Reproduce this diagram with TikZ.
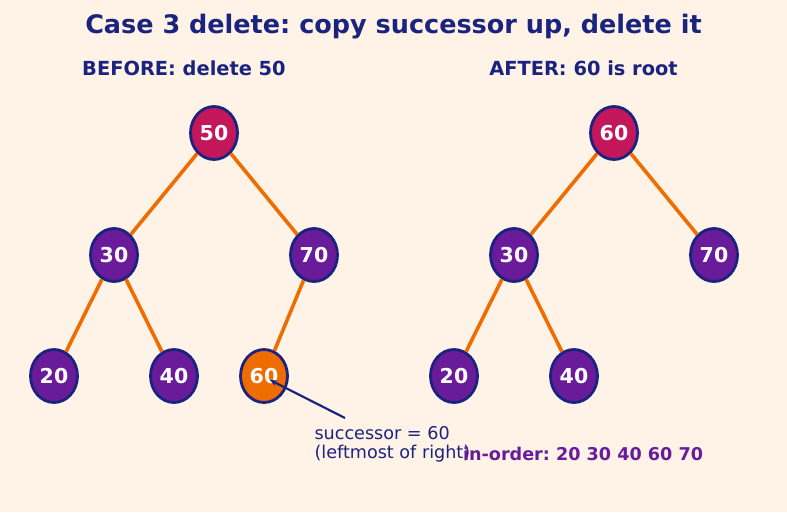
\documentclass[tikz,border=0pt]{standalone}
\usepackage{fontspec}
\setmainfont{DejaVu Sans}
\usetikzlibrary{shapes.geometric,arrows.meta}
\definecolor{bg}{HTML}{FFF2E6}
\definecolor{navy}{HTML}{1A237E}
\definecolor{crim}{HTML}{C2185B}
\definecolor{purp}{HTML}{6A1B9A}
\definecolor{orng}{HTML}{EF6C00}
\tikzset{
  bst/.style={ellipse, draw=navy, line width=2.8pt, minimum width=47pt, minimum height=53pt, inner sep=0pt,
    text=white, font=\bfseries\fontsize{20.5}{20.5}\selectfont},
  rootn/.style={bst, fill=crim},
  plain/.style={bst, fill=purp},
  succ/.style={bst, fill=orng},
  edge/.style={draw=orng, line width=3.6pt},
}
\begin{document}
\frenchspacing
\begin{tikzpicture}[x=1pt,y=-1pt]
\fill[bg] (0,0) rectangle (787,512);
\useasboundingbox (0,0) rectangle (787,512);
\node[text=navy, font=\bfseries\fontsize{25.5}{25.5}\selectfont] (title) at (393.5,27) {Case 3 delete: copy successor up, delete it};
\node[text=navy, font=\bfseries\fontsize{19.4}{19.4}\selectfont] (hb) at (184,68) {BEFORE: delete 50};
\node[text=navy, font=\bfseries\fontsize{19.4}{19.4}\selectfont] (ha) at (583.5,68) {AFTER: 60 is root};
% before
\node[rootn] (b50) at (214,133) {50};
\node[plain] (b30) at (114,255) {30};
\node[plain] (b70) at (314,255) {70};
\node[plain] (b20) at (54,376) {20};
\node[plain] (b40) at (174,376) {40};
\node[succ] (b60) at (264,376) {60};
% after
\node[rootn] (a60) at (614,133) {60};
\node[plain] (a30) at (514,255) {30};
\node[plain] (a70) at (714,255) {70};
\node[plain] (a20) at (454,376) {20};
\node[plain] (a40) at (574,376) {40};
\path[edge] (b50) -- (b30);
\path[edge] (b50) -- (b70);
\path[edge] (b30) -- (b20);
\path[edge] (b30) -- (b40);
\path[edge] (b70) -- (b60);
\path[edge] (a60) -- (a30);
\path[edge] (a60) -- (a70);
\path[edge] (a30) -- (a20);
\path[edge] (a30) -- (a40);
% annotation
\coordinate (tail) at (345,418);
\coordinate (tip) at (270,380);
\draw[navy, line width=2.2pt, -{Stealth[length=7pt,width=6pt]}] (tail) -- (tip);
\node[text=navy, font=\fontsize{17.6}{17.6}\selectfont, anchor=west] (s1) at (311,433) {successor = 60};
\node[text=navy, font=\fontsize{17.6}{17.6}\selectfont, anchor=west] (s2) at (311,454) {(leftmost of right)};
\node[text=purp, font=\bfseries\fontsize{17.6}{17.6}\selectfont, anchor=west] (io) at (459.5,454) {in-order: 20 30 40 60 70};
\end{tikzpicture}
\end{document}
